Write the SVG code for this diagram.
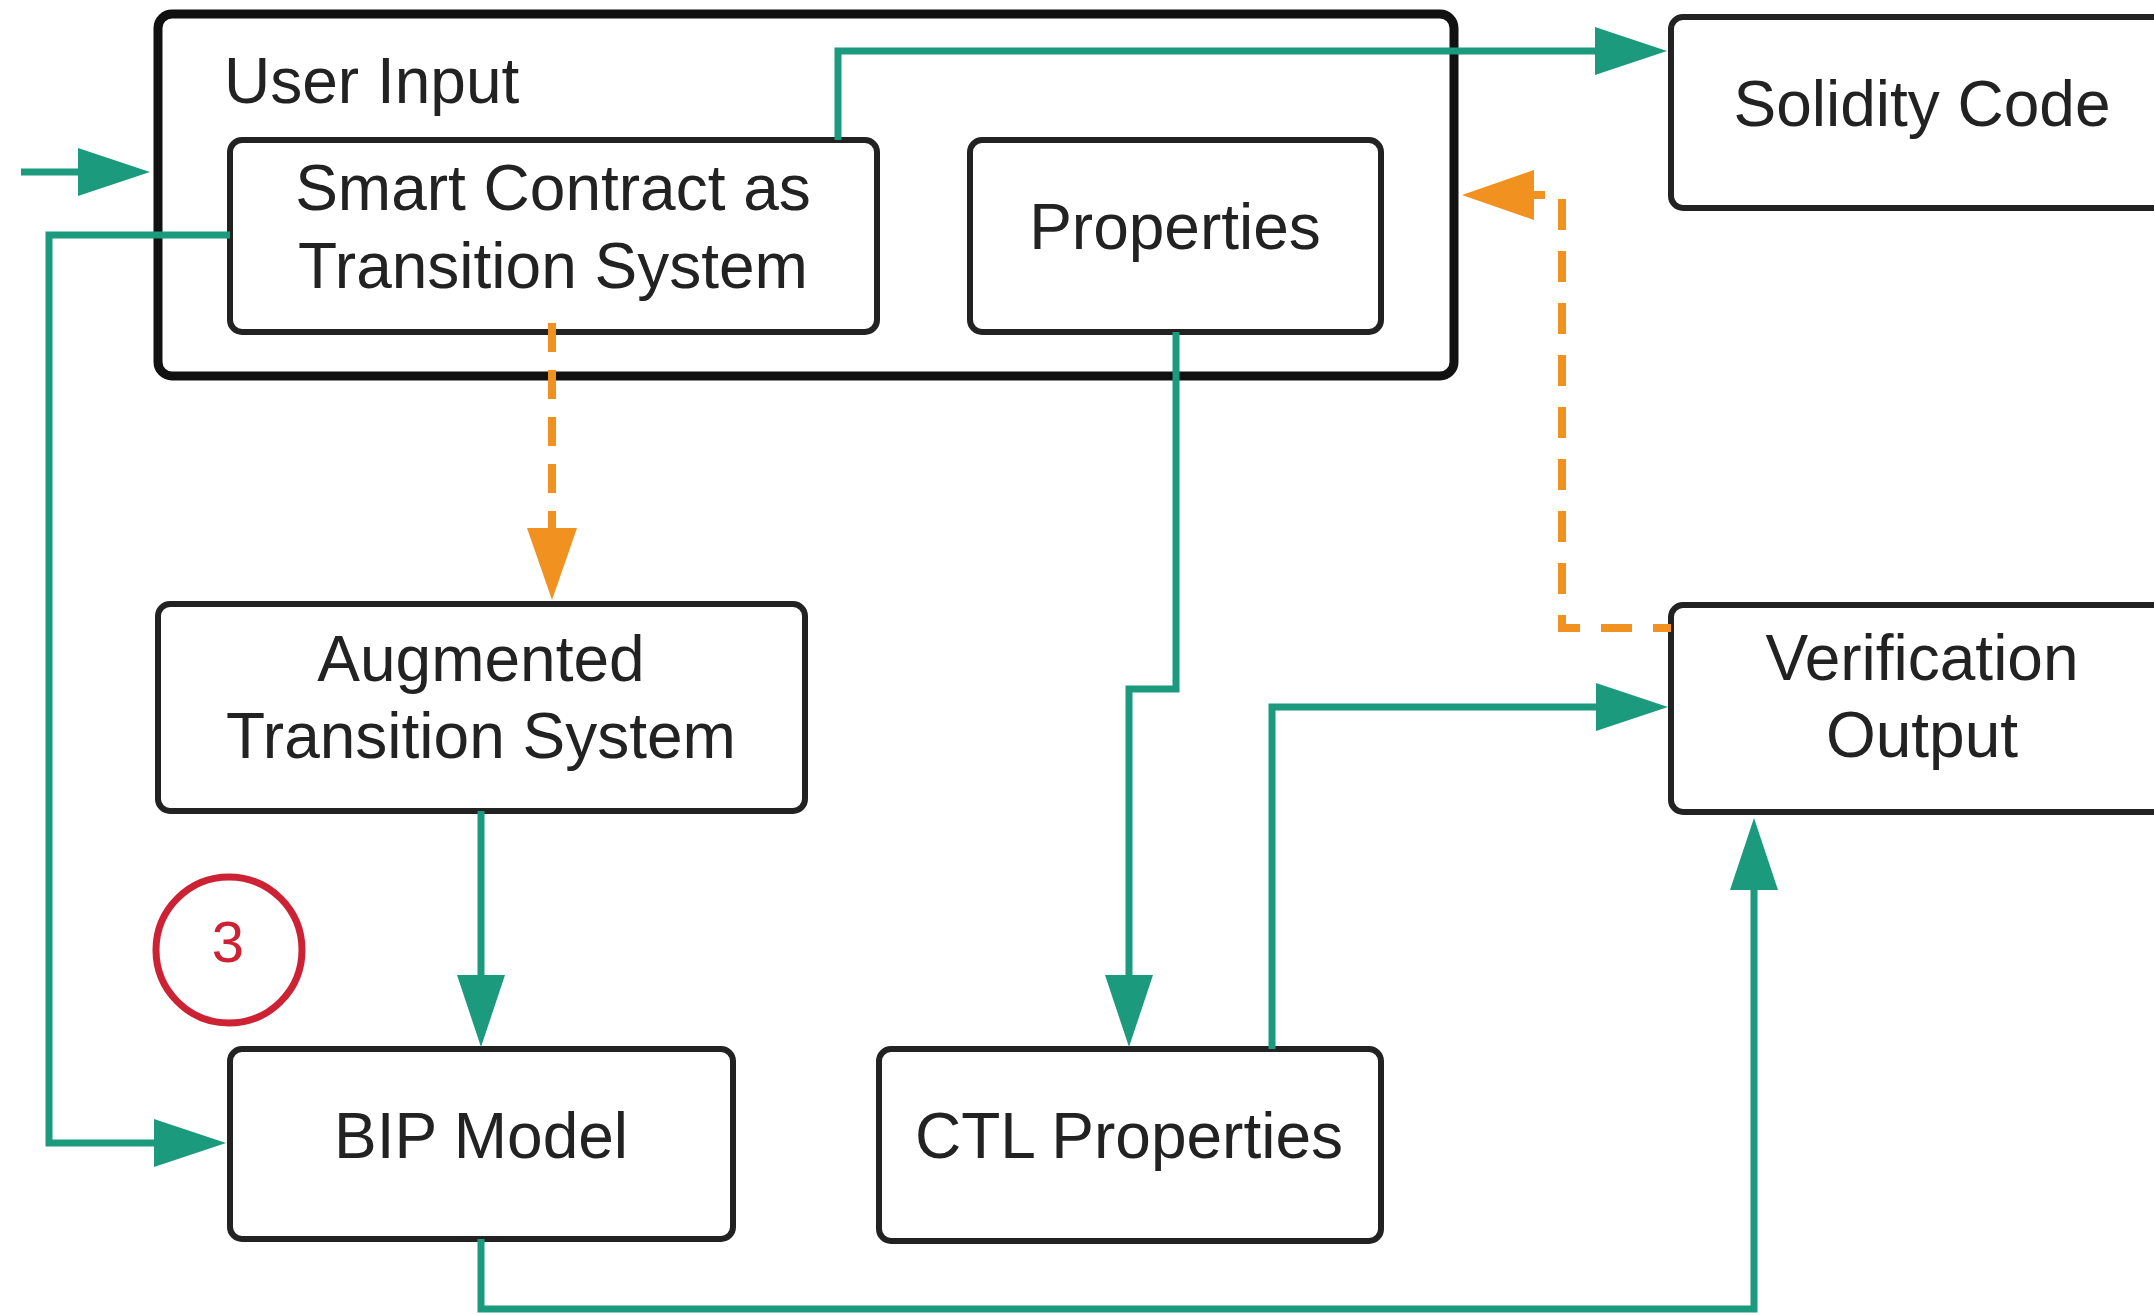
<svg xmlns="http://www.w3.org/2000/svg" width="2154" height="1315" viewBox="0 0 2154 1315">
  <style>
    .box { fill: #ffffff; stroke: #222222; stroke-width: 6; }
    .outer { fill: #ffffff; stroke: #111111; stroke-width: 9; }
    .label { font-family: "Liberation Sans", Arial, sans-serif; font-size: 64px; fill: #222222; text-anchor: middle; }
    .flow { fill: none; stroke: #1b9a7d; stroke-width: 7; }
    .feedback { fill: none; stroke: #f1911f; stroke-width: 8; stroke-dasharray: 31 21; stroke-dashoffset: 13; }
    .feedback.short { stroke-dasharray: 29 18; stroke-dashoffset: 0; }
    .step { fill: none; stroke: #cc2233; stroke-width: 7; }
    .step-num { font-family: "Liberation Sans", Arial, sans-serif; font-size: 58px; fill: #cc2233; text-anchor: middle; }
  </style>
  <defs>
    <marker id="arrow-green" viewBox="0 0 72 48" refX="0" refY="24" markerWidth="72" markerHeight="48" markerUnits="userSpaceOnUse" orient="auto">
      <path d="M0,0 L72,24 L0,48 Z" fill="#1b9a7d"/>
    </marker>
    <marker id="arrow-orange" viewBox="0 0 72 50" refX="0" refY="25" markerWidth="72" markerHeight="50" markerUnits="userSpaceOnUse" orient="auto">
      <path d="M0,0 L72,25 L0,50 Z" fill="#f1911f"/>
    </marker>
  </defs>

  <rect width="2154" height="1315" fill="#ffffff"/>

  <!-- User input container with its two inputs -->
  <g id="user-input">
    <rect class="outer" x="158" y="14" width="1296" height="362" rx="14"/>
    <text class="label" x="224" y="103" style="text-anchor:start">User Input</text>
  </g>
  <g id="smart-contract">
    <rect class="box" x="230" y="140" width="647" height="192" rx="12"/>
    <text class="label" x="553" y="210">Smart Contract as</text>
    <text class="label" x="553" y="288">Transition System</text>
  </g>
  <g id="properties">
    <rect class="box" x="970" y="140" width="411" height="192" rx="12"/>
    <text class="label" x="1175" y="249">Properties</text>
  </g>

  <g id="solidity-code">
    <rect class="box" x="1671" y="17" width="520" height="191" rx="12"/>
    <text class="label" x="1922" y="126">Solidity Code</text>
  </g>

  <g id="augmented-ts">
    <rect class="box" x="158" y="604" width="647" height="207" rx="12"/>
    <text class="label" x="481" y="681">Augmented</text>
    <text class="label" x="481" y="758">Transition System</text>
  </g>

  <g id="verification-output">
    <rect class="box" x="1671" y="605" width="520" height="207" rx="12"/>
    <text class="label" x="1922" y="680">Verification</text>
    <text class="label" x="1922" y="757">Output</text>
  </g>

  <g id="bip-model">
    <rect class="box" x="230" y="1049" width="503" height="190" rx="12"/>
    <text class="label" x="481" y="1158">BIP Model</text>
  </g>

  <g id="ctl-properties">
    <rect class="box" x="879" y="1049" width="502" height="192" rx="12"/>
    <text class="label" x="1129" y="1158">CTL Properties</text>
  </g>

  <g id="step-3">
    <circle class="step" cx="229" cy="950" r="73"/>
    <text class="step-num" x="228" y="962">3</text>
  </g>

  <!-- Connectors -->
  <g id="connectors">
    <path class="flow" d="M21,172 H78" marker-end="url(#arrow-green)"/>
    <path class="flow" d="M838,140 V51 H1595" marker-end="url(#arrow-green)"/>
    <path class="flow" d="M230,235 H49 V1143 H154" marker-end="url(#arrow-green)"/>
    <path class="flow" d="M481,811 V975" marker-end="url(#arrow-green)"/>
    <path class="flow" d="M1176,332 V689 H1129 V975" marker-end="url(#arrow-green)"/>
    <path class="flow" d="M1272,1049 V707 H1596" marker-end="url(#arrow-green)"/>
    <path class="flow" d="M481,1239 V1309 H1754 V890" marker-end="url(#arrow-green)"/>
    <path class="feedback short" d="M552,323 V528" marker-end="url(#arrow-orange)"/>
    <path class="feedback" d="M1671,628 H1562 V195 H1534" marker-end="url(#arrow-orange)"/>
  </g>
</svg>
